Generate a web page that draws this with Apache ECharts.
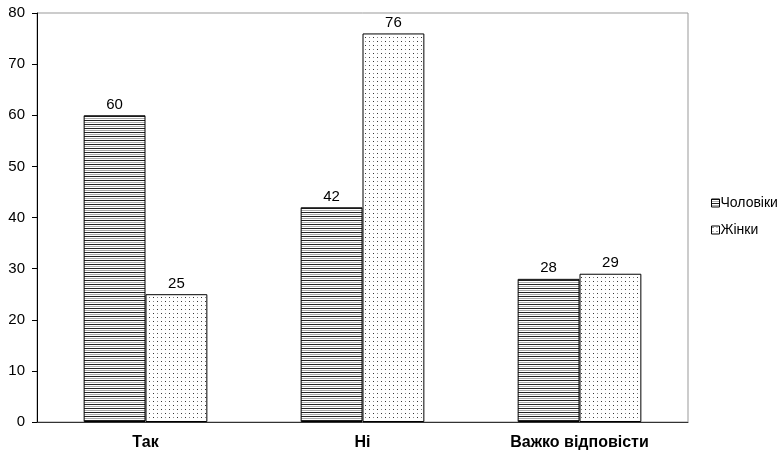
<!DOCTYPE html>
<html><head><meta charset="utf-8">
<script src="https://cdn.jsdelivr.net/npm/echarts@6/dist/echarts.min.js"></script>
<style>html,body{margin:0;padding:0;background:#fff}#c{width:783px;height:451px}</style>
</head><body><div id="c"></div>
<script>
const categories = ['Так', 'Ні', 'Важко відповісти'];
const men = [60, 42, 28];
const women = [25, 76, 29];
const seriesNames = ['Чоловіки', 'Жінки'];
const yTicks = [0, 10, 20, 30, 40, 50, 60, 70, 80];

function stripes() {
  const c = document.createElement('canvas');
  c.width = 4; c.height = 4;
  const g = c.getContext('2d');
  g.fillStyle = '#fff'; g.fillRect(0, 0, 4, 4);
  g.fillStyle = '#222'; g.fillRect(0, 0, 4, 1);
  g.fillStyle = '#aaa'; g.fillRect(0, 2, 4, 1);
  return c;
}
function dots() {
  const c = document.createElement('canvas');
  c.width = 8; c.height = 8;
  const g = c.getContext('2d');
  g.fillStyle = '#fff'; g.fillRect(0, 0, 8, 8);
  g.fillStyle = '#333';
  g.fillRect(1, 1, 1, 1);
  g.fillRect(5, 5, 1, 1);
  g.fillStyle = '#888';
  g.fillRect(5, 1, 1, 1);
  g.fillRect(1, 5, 1, 1);
  return c;
}

const chart = echarts.init(document.getElementById('c'), null, {renderer: 'canvas'});
const font = 'Liberation Sans, Arial, sans-serif';
chart.setOption({
  animation: false,
  grid: {left: 37, top: 13, right: 95, bottom: 29, show: true, borderColor: '#999', borderWidth: 1},
  legend: {
    orient: 'vertical', left: 706, top: 191, itemWidth: 8, itemHeight: 8, itemGap: 13,
    icon: 'rect',
    itemStyle: {borderWidth: 1, borderColor: '#000'},
    textStyle: {fontFamily: font, fontSize: 14, color: '#000', padding: [0, 0, 0, -4]},
    data: seriesNames
  },
  xAxis: {
    type: 'category', data: categories,
    axisLine: {lineStyle: {color: '#333', width: 1}},
    axisTick: {show: false},
    axisLabel: {fontFamily: font, fontSize: 16, fontWeight: 'bold', color: '#000', margin: 13}
  },
  yAxis: {
    type: 'value', min: yTicks[0], max: yTicks[yTicks.length - 1], interval: 10,
    axisLine: {show: true, lineStyle: {color: '#000', width: 1}},
    axisTick: {show: true, length: 5, lineStyle: {color: '#000'}},
    splitLine: {show: false},
    axisLabel: {fontFamily: font, fontSize: 15, color: '#000', margin: 12}
  },
  series: [
    {
      name: seriesNames[0], type: 'bar', data: men, barGap: '0%', barCategoryGap: '43%',
      itemStyle: {color: {image: stripes(), repeat: 'repeat'}, borderColor: '#000', borderWidth: 1},
      label: {show: true, position: 'top', fontFamily: font, fontSize: 15, color: '#000', distance: 3}
    },
    {
      name: seriesNames[1], type: 'bar', data: women,
      itemStyle: {color: {image: dots(), repeat: 'repeat'}, borderColor: '#000', borderWidth: 1},
      label: {show: true, position: 'top', fontFamily: font, fontSize: 15, color: '#000', distance: 3}
    }
  ]
});
</script></body></html>
